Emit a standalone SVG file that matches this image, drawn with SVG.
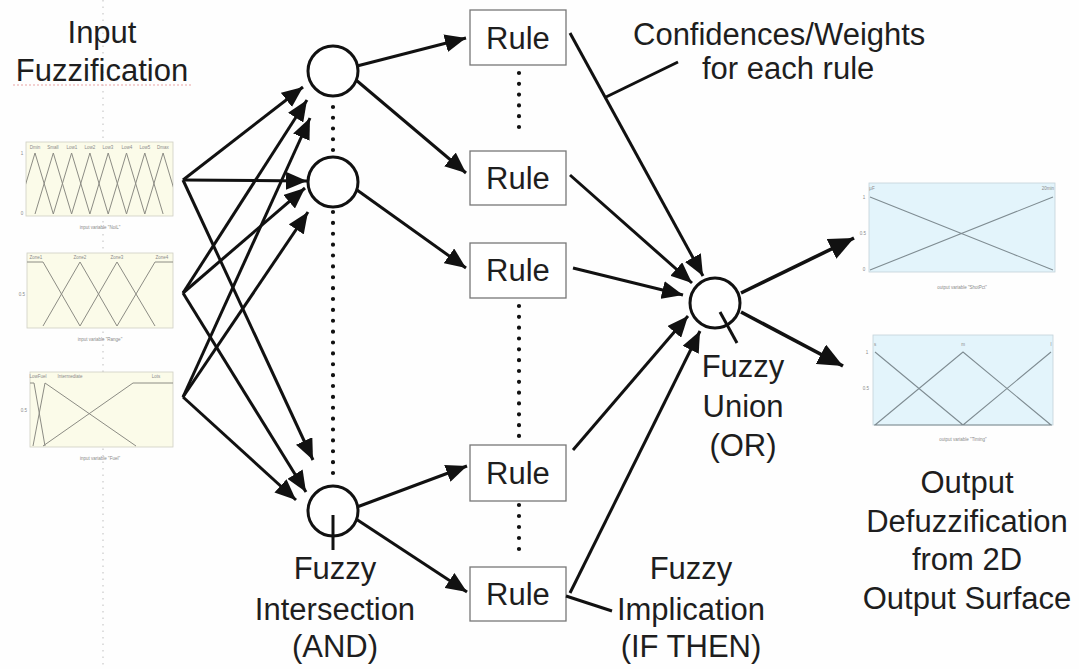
<svg xmlns="http://www.w3.org/2000/svg" width="1079" height="669" viewBox="0 0 1079 669">
  <defs>
    <style>
      .t { font-family: "Liberation Sans", Arial, sans-serif; font-size: 31px; fill: #1e1e1e; text-anchor: middle; }
      .ts { font-family: "Liberation Sans", Arial, sans-serif; font-size: 31px; fill: #1e1e1e; }
      .tiny { font-family: "Liberation Sans", Arial, sans-serif; font-size: 4.5px; fill: #8a8a8a; text-anchor: middle; }
      .ln { stroke: #111; stroke-width: 3; fill: none; }
      .lnL { stroke: #111; stroke-width: 3.6; fill: none; }
      .arw { marker-end: url(#ah); }
      .arwL { marker-end: url(#ahL); }
      .node { fill: #fff; stroke: #111; stroke-width: 3; }
      .box { fill: #fff; stroke: #777; stroke-width: 1.3; }
      .dots { stroke: #111; stroke-width: 4.2; stroke-linecap: round; fill: none; }
      .mf { stroke: #8c8c84; stroke-width: 1; fill: none; }
      .mfo { stroke: #7f8c92; stroke-width: 1.1; fill: none; }
      .pin { fill: #fbfbe9; stroke: #cfcfc4; stroke-width: 0.8; }
      .pout { fill: #e3f4fb; stroke: #c3d3da; stroke-width: 0.8; }
    </style>
    <marker id="ah" markerUnits="userSpaceOnUse" markerWidth="22" markerHeight="18" refX="21" refY="9" orient="auto" viewBox="0 0 22 18">
      <path d="M0,0 L21,9 L0,18 z" fill="#111"/>
    </marker>
    <marker id="ahL" markerUnits="userSpaceOnUse" markerWidth="26" markerHeight="22" refX="25" refY="11" orient="auto" viewBox="0 0 26 22">
      <path d="M0,0 L25,11 L0,22 z" fill="#111"/>
    </marker>
    <clipPath id="c1"><rect x="26" y="142" width="147" height="74"/></clipPath>
    <clipPath id="c2"><rect x="27" y="253" width="146" height="75"/></clipPath>
    <clipPath id="c3"><rect x="30" y="372" width="143" height="75"/></clipPath>
  </defs>

  <rect width="1079" height="669" fill="#fefefe"/>

  <!-- faint dotted guide running down the page -->
  <line x1="103" y1="0" x2="103" y2="669" stroke="#c9c9c9" stroke-width="1.2" stroke-dasharray="1.5 5"/>

  <!-- headings -->
  <g id="label-input">
    <text class="t" x="102" y="43">Input</text>
    <text class="t" x="102" y="81">Fuzzification</text>
    <line x1="13" y1="85" x2="192" y2="85" stroke="#e7a3a3" stroke-width="1.2" stroke-dasharray="2 2"/>
  </g>
  <g id="label-weights">
    <text class="ts" x="633" y="45">Confidences/Weights</text>
    <text class="ts" x="702" y="79">for each rule</text>
  </g>

  <!-- input membership plots -->
  <g id="input-plot-1">
    <rect class="pin" x="26" y="142" width="147" height="74"/>
    <path class="mf" clip-path="url(#c1)" d="M16.7,214 L35,153 L53.3,214 M35,214 L53.3,153 L71.6,214 M53.3,214 L71.6,153 L89.9,214 M71.6,214 L89.9,153 L108.2,214 M89.9,214 L108.2,153 L126.5,214 M108.2,214 L126.5,153 L144.8,214 M126.5,214 L144.8,153 L163.1,214 M144.8,214 L163.1,153 L181.4,214"/>
    <text class="tiny" x="35" y="149">Dmin</text>
    <text class="tiny" x="53" y="149">Small</text>
    <text class="tiny" x="72" y="149">Low1</text>
    <text class="tiny" x="90" y="149">Low2</text>
    <text class="tiny" x="108" y="149">Low3</text>
    <text class="tiny" x="127" y="149">Low4</text>
    <text class="tiny" x="145" y="149">Low5</text>
    <text class="tiny" x="163" y="149">Dmax</text>
    <text class="tiny" x="22" y="155">1</text>
    <text class="tiny" x="22" y="215">0</text>
    <text class="tiny" x="100" y="229">input variable "NoiL"</text>
  </g>
  <g id="input-plot-2">
    <rect class="pin" x="27" y="253" width="146" height="75"/>
    <path class="mf" clip-path="url(#c2)" d="M27,262 L43,262 L80,326 M43,326 L80,262 L117,326 M80,326 L117,262 L155,326 M117,326 L155,262 L173,262"/>
    <text class="tiny" x="36" y="259">Zone1</text>
    <text class="tiny" x="80" y="259">Zone2</text>
    <text class="tiny" x="117" y="259">Zone3</text>
    <text class="tiny" x="162" y="259">Zone4</text>
    <text class="tiny" x="22" y="296">0.5</text>
    <text class="tiny" x="100" y="341">input variable "Range"</text>
  </g>
  <g id="input-plot-3">
    <rect class="pin" x="30" y="372" width="143" height="75"/>
    <path class="mf" clip-path="url(#c3)" d="M30,383 L34,383 L45,446 M33,446 L45,383 L136,446 M43,446 L133,383 L173,383"/>
    <text class="tiny" x="38" y="378">LowFuel</text>
    <text class="tiny" x="70" y="378">Intermediate</text>
    <text class="tiny" x="156" y="378">Lots</text>
    <text class="tiny" x="24" y="412">0.5</text>
    <text class="tiny" x="100" y="460">input variable "Fuel"</text>
  </g>

  <!-- fuzzy intersection nodes -->
  <g id="and-1"><circle class="node" cx="333" cy="71" r="25"/></g>
  <g id="and-2"><circle class="node" cx="333" cy="182" r="25"/></g>
  <g id="and-3">
    <circle class="node" cx="333" cy="511" r="25"/>
    <line class="ln" x1="333" y1="515" x2="333" y2="550"/>
    <text class="t" x="335" y="579">Fuzzy</text>
    <text class="t" x="335" y="620">Intersection</text>
    <text class="t" x="335" y="657">(AND)</text>
  </g>

  <!-- rule boxes -->
  <g id="rule-1"><rect class="box" x="470" y="10" width="96" height="55"/><text class="t" x="518" y="49">Rule</text></g>
  <g id="rule-2"><rect class="box" x="470" y="151" width="96" height="54"/><text class="t" x="518" y="189">Rule</text></g>
  <g id="rule-3"><rect class="box" x="470" y="243" width="96" height="55"/><text class="t" x="518" y="281">Rule</text></g>
  <g id="rule-4"><rect class="box" x="470" y="445" width="96" height="56"/><text class="t" x="518" y="484">Rule</text></g>
  <g id="rule-5"><rect class="box" x="470" y="567" width="96" height="54"/><text class="t" x="518" y="605">Rule</text></g>

  <!-- fuzzy union node -->
  <g id="or-node">
    <circle class="node" cx="715" cy="303" r="25"/>
    <line class="ln" x1="720" y1="312" x2="737" y2="343"/>
    <text class="t" x="743" y="377">Fuzzy</text>
    <text class="t" x="743" y="417">Union</text>
    <text class="t" x="743" y="456">(OR)</text>
  </g>

  <g id="label-implication">
    <text class="t" x="691" y="579">Fuzzy</text>
    <text class="t" x="691" y="620">Implication</text>
    <text class="t" x="691" y="657">(IF THEN)</text>
  </g>

  <!-- output surface plots -->
  <g id="output-plot-1">
    <rect class="pout" x="869" y="183" width="186" height="89"/>
    <path class="mfo" d="M870,197 L1053,270 M870,270 L1053,197"/>
    <text class="tiny" x="872" y="190">μF</text>
    <text class="tiny" x="1048" y="190">20min</text>
    <text class="tiny" x="864" y="199">1</text>
    <text class="tiny" x="863" y="235">0.5</text>
    <text class="tiny" x="864" y="271">0</text>
    <text class="tiny" x="962" y="289">output variable "ShotPct"</text>
  </g>
  <g id="output-plot-2">
    <rect class="pout" x="873" y="335" width="180" height="90"/>
    <path class="mfo" d="M875,352 L963,425 M875,425 L963,352 L1051,425 M963,425 L1051,352 M874,425 L1052,425"/>
    <text class="tiny" x="875" y="346">s</text>
    <text class="tiny" x="963" y="346">m</text>
    <text class="tiny" x="1051" y="346">l</text>
    <text class="tiny" x="867" y="354">1</text>
    <text class="tiny" x="866" y="390">0.5</text>
    <text class="tiny" x="963" y="441">output variable "Timing"</text>
  </g>

  <g id="label-output">
    <text class="t" x="967" y="493">Output</text>
    <text class="t" x="967" y="532">Defuzzification</text>
    <text class="t" x="967" y="570">from 2D</text>
    <text class="t" x="967" y="609">Output Surface</text>
  </g>

  <!-- dotted continuations -->
  <g id="ellipses">
    <line class="dots" x1="333" y1="107" x2="333" y2="150.5" stroke-dasharray="0 10.75"/>
    <line class="dots" x1="333" y1="212" x2="333" y2="473.5" stroke-dasharray="0 10.875"/>
    <line class="dots" x1="519" y1="73" x2="519" y2="127.5" stroke-dasharray="0 10.8"/>
    <line class="dots" x1="519" y1="306" x2="519" y2="436.5" stroke-dasharray="0 10.83"/>
    <line class="dots" x1="519" y1="505" x2="519" y2="549.5" stroke-dasharray="0 11"/>
  </g>

  <!-- connectors -->
  <g id="connectors">
    <!-- inputs to intersections -->
    <line class="ln arw" x1="183" y1="180" x2="303" y2="87"/>
    <line class="ln arw" x1="183" y1="180" x2="307" y2="181"/>
    <line class="ln arw" x1="183" y1="180" x2="313" y2="460"/>
    <line class="ln arw" x1="183" y1="293" x2="307" y2="100"/>
    <line class="ln arw" x1="183" y1="293" x2="305" y2="188"/>
    <line class="ln arw" x1="183" y1="293" x2="306" y2="492"/>
    <line class="ln arw" x1="183" y1="397" x2="310" y2="118"/>
    <line class="ln arw" x1="183" y1="397" x2="308" y2="212"/>
    <line class="ln arw" x1="183" y1="397" x2="296" y2="500"/>
    <!-- intersections to rules -->
    <line class="ln arw" x1="357" y1="66" x2="466" y2="38"/>
    <line class="ln arw" x1="356" y1="80" x2="466" y2="173"/>
    <line class="ln arw" x1="357" y1="190" x2="466" y2="268"/>
    <line class="ln arw" x1="357" y1="507" x2="467" y2="466"/>
    <line class="ln arw" x1="356" y1="519" x2="467" y2="592"/>
    <!-- rules to union -->
    <line class="ln arw" x1="570" y1="33" x2="703" y2="276"/>
    <line class="ln arw" x1="570" y1="175" x2="692" y2="283"/>
    <line class="ln arw" x1="573" y1="268" x2="683" y2="295"/>
    <line class="ln arw" x1="573" y1="450" x2="688" y2="316"/>
    <line class="ln arw" x1="570" y1="593" x2="700" y2="331"/>
    <!-- leaders -->
    <line class="ln" x1="606" y1="97" x2="678" y2="62"/>
    <line class="ln" x1="566" y1="596" x2="612" y2="611"/>
    <!-- union to outputs -->
    <line class="lnL arwL" x1="741" y1="293" x2="854" y2="238"/>
    <line class="lnL arwL" x1="741" y1="312" x2="843" y2="366"/>
  </g>
</svg>
